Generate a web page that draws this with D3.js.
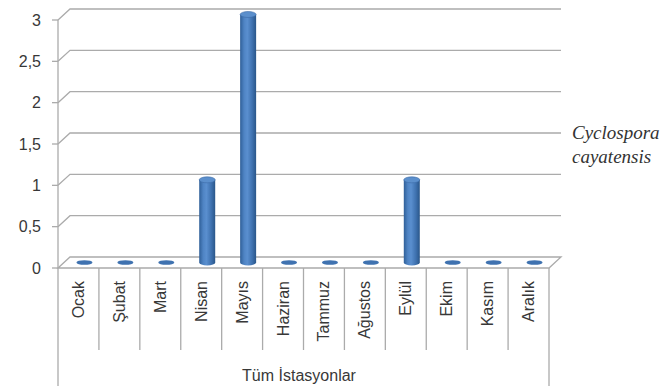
<!DOCTYPE html>
<html>
<head>
<meta charset="utf-8">
<script src="https://cdn.jsdelivr.net/npm/d3@7"></script>
<style>
  html, body { margin: 0; padding: 0; background: #fff; }
  svg { display: block; }
</style>
</head>
<body>
<script>
// Monthly counts for all stations
const months = ["Ocak", "Şubat", "Mart", "Nisan", "Mayıs", "Haziran", "Tammuz", "Ağustos", "Eylül", "Ekim", "Kasım", "Aralık"];
const counts = [0, 0, 0, 1, 3, 0, 0, 0, 1, 0, 0, 0];
const yTicks = [0, 0.5, 1, 1.5, 2, 2.5, 3];
const seriesName = ["Cyclospora", "cayatensis"];
const axisTitle = "Tüm İstasyonlar";

const W = 672, H = 386;
const depthX = 12, depthY = -11;        // 3D depth offset of the back wall
const gridColor = "#ababab";
const textColor = "#383838";
const font = "Liberation Sans, Arial, sans-serif";

const svg = d3.select("body").append("svg").attr("width", W).attr("height", H);

const x = d3.scaleBand().domain(months).range([58, 549]).padding(0);
const y = d3.scaleLinear().domain([0, 3]).range([268, 20]);

// bar gradient (cylinder shading)
const defs = svg.append("defs");
const grad = defs.append("linearGradient").attr("id", "cyl").attr("x1", "0").attr("x2", "1").attr("y1", "0").attr("y2", "0");
[[0, "#2f5f98"], [0.25, "#4f84c4"], [0.45, "#5a8fcf"], [0.75, "#3f72b0"], [1, "#2a5689"]]
  .forEach(([o, c]) => grad.append("stop").attr("offset", o).attr("stop-color", c));

const wall = svg.append("g");
const x0 = x.range()[0], x1 = x.range()[1];

// gridlines on the back wall, with the diagonal link to the front axis
yTicks.forEach(t => {
  const yf = y(t);
  if (t === 0) return;
  wall.append("path")
    .attr("d", `M${x0},${yf}L${x0 + depthX},${yf + depthY}L${x1 + depthX},${yf + depthY}`)
    .attr("fill", "none").attr("stroke", gridColor).attr("stroke-width", 1.3);
});

// floor
wall.append("path")
  .attr("d", `M${x0},${y(0)}L${x0 + depthX},${y(0) + depthY}L${x1 + depthX},${y(0) + depthY}L${x1},${y(0)}Z`)
  .attr("fill", "none").attr("stroke", gridColor).attr("stroke-width", 1.3);

// vertical axis line
wall.append("line").attr("x1", x0).attr("x2", x0).attr("y1", y(3)).attr("y2", H)
  .attr("stroke", gridColor).attr("stroke-width", 1.3);
// right outer line
wall.append("line").attr("x1", x1).attr("x2", x1).attr("y1", y(0)).attr("y2", H)
  .attr("stroke", gridColor).attr("stroke-width", 1.3);

// tick marks and labels on the value axis
yTicks.forEach(t => {
  wall.append("line").attr("x1", x0 - 6).attr("x2", x0).attr("y1", y(t)).attr("y2", y(t))
    .attr("stroke", gridColor).attr("stroke-width", 1.3);
  wall.append("text").attr("x", x0 - 17).attr("y", y(t))
    .attr("text-anchor", "end").attr("dominant-baseline", "central")
    .attr("font-family", font).attr("font-size", 16).attr("fill", textColor)
    .text(String(t).replace(".", ","));
});

// category separators under the floor
months.forEach((m, i) => {
  if (i === 0) return;
  const xs = x(m);
  wall.append("line").attr("x1", xs).attr("x2", xs).attr("y1", y(0)).attr("y2", 350)
    .attr("stroke", gridColor).attr("stroke-width", 1.3);
});

// month labels
months.forEach(m => {
  const cx = x(m) + x.bandwidth() / 2;
  wall.append("text")
    .attr("transform", `translate(${cx},281) rotate(-90)`)
    .attr("text-anchor", "end").attr("dominant-baseline", "central")
    .attr("font-family", font).attr("font-size", 16).attr("fill", textColor)
    .text(m);
});

// axis title
svg.append("text").attr("x", 299).attr("y", 375)
  .attr("text-anchor", "middle").attr("dominant-baseline", "central")
  .attr("font-family", font).attr("font-size", 16).attr("fill", textColor)
  .text(axisTitle);

// cylinders, placed at mid depth
const barW = 16, capR = 3;
const bars = svg.append("g");
months.forEach((m, i) => {
  const v = counts[i];
  const cx = x(m) + x.bandwidth() / 2 + depthX / 2;
  const yb = y(0) + depthY / 2;
  const yt = y(v) + depthY / 2;
  if (v === 0) {
    bars.append("ellipse").attr("cx", cx).attr("cy", yb).attr("rx", barW / 2).attr("ry", 2.3)
      .attr("fill", "#3f72b0");
    return;
  }
  bars.append("path")
    .attr("d", `M${cx - barW / 2},${yt}L${cx - barW / 2},${yb}A${barW / 2},${capR} 0 0 0 ${cx + barW / 2},${yb}L${cx + barW / 2},${yt}Z`)
    .attr("fill", "url(#cyl)");
  bars.append("ellipse").attr("cx", cx).attr("cy", yt).attr("rx", barW / 2).attr("ry", capR)
    .attr("fill", "#5b8fcc").attr("stroke", "#3a6aa6").attr("stroke-width", 0.6);
});

// series label
svg.append("g").selectAll("text").data(seriesName).join("text")
  .attr("x", 572).attr("y", (d, i) => 139 + i * 24)
  .attr("font-family", "Liberation Serif, Times New Roman, serif")
  .attr("font-style", "italic").attr("font-size", 19).attr("fill", "#333")
  .text(d => d);
</script>
</body>
</html>
